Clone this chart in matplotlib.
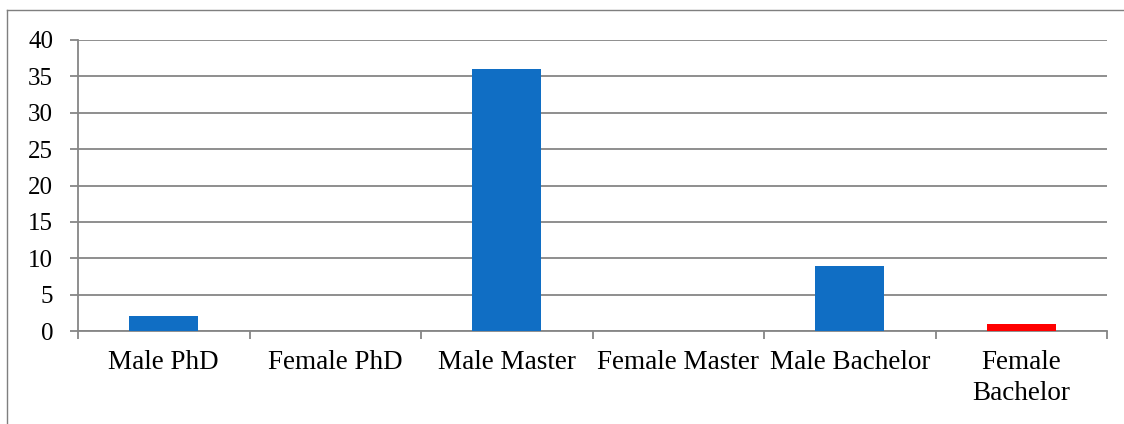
import matplotlib
matplotlib.use("Agg")
import matplotlib.pyplot as plt
from matplotlib.lines import Line2D
import numpy as np

categories = ["Male PhD", "Female PhD", "Male Master", "Female Master",
              "Male Bachelor", "Female\nBachelor"]
counts = [2, 0, 36, 0, 9, 1]
bar_colors = ["#106EC4", "#106EC4", "#106EC4", "#106EC4", "#106EC4", "#FF0000"]
y_ticks = [0, 5, 10, 15, 20, 25, 30, 35, 40]

plt.rcParams["font.family"] = ["Liberation Serif", "DejaVu Serif"]
GRID = "#868686"

fig = plt.figure(figsize=(11.24, 4.24), dpi=100)
ax = fig.add_axes([0.0694, 0.2193, 0.9155, 0.6864])

x = np.arange(len(categories))
ax.bar(x, counts, width=0.4, color=bar_colors, zorder=3)

ax.set_xlim(-0.5, len(categories) - 0.5)
ax.set_ylim(0, 40)
ax.set_yticks(y_ticks)
ax.yaxis.grid(True, color=GRID, linewidth=1.3, zorder=0)

# category labels sit between the boundary ticks
ax.set_xticks(np.arange(len(categories) + 1) - 0.5)
ax.set_xticklabels([])
ax.set_xticks(x, minor=True)
ax.set_xticklabels(categories, minor=True, fontsize=19.5, linespacing=1.3)
ax.tick_params(axis="x", which="minor", length=0, pad=14)
ax.tick_params(axis="x", which="major", length=6, width=1.3, color=GRID)
ax.tick_params(axis="y", length=6, width=1.3, color=GRID, labelsize=18, pad=12)

for side in ["top", "right"]:
    ax.spines[side].set_visible(False)
for side in ["left", "bottom"]:
    ax.spines[side].set_color(GRID)
    ax.spines[side].set_linewidth(1.3)

# chart-area frame (left and top edges)
fig.add_artist(Line2D([0.0065, 0.0065], [0.0, 0.976], transform=fig.transFigure,
                      color="#7f7f7f", linewidth=1.0))
fig.add_artist(Line2D([0.0065, 1.0], [0.976, 0.976], transform=fig.transFigure,
                      color="#7f7f7f", linewidth=1.0))

fig.savefig("out.png", dpi=100)
